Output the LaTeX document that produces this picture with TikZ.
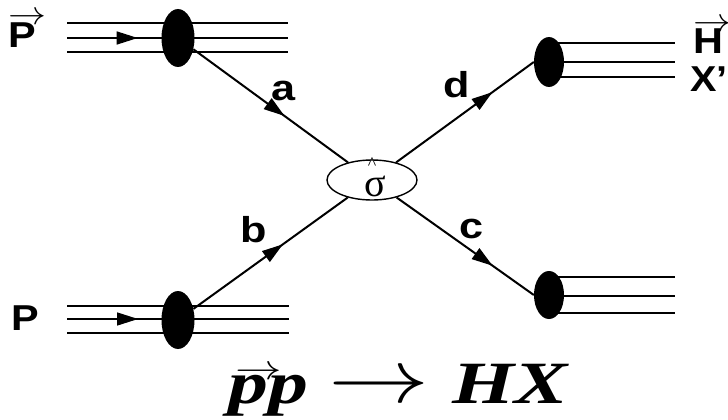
\documentclass[tikz,border=0pt]{standalone}
\usepackage{fontspec}
\usepackage{graphicx}
\setmainfont{Liberation Serif}
\newfontfamily\lsans{Liberation Sans}
\newfontfamily\lserif{Liberation Serif}
\usetikzlibrary{arrows.meta,decorations.markings,shapes.geometric}
% arrow glyph of given width, raised by given amount, overlaid on text
\newcommand\arw[1]{\resizebox{#1}{!}{$\rightarrow$}}
\newcommand\vecon[4]{\makebox[0pt][l]{\hspace{#3}\raisebox{#2}{\arw{#1}}}#4}
\newcommand\hstr[2]{\scalebox{#1}[1]{#2}}
\begin{document}
\begin{tikzpicture}[x=1pt,y=-1pt,
  beam/.style={line width=1.4pt},
  parton/.style={line width=2pt},
  tipmark/.style={postaction={decorate},decoration={markings,
     mark=at position #1 with {\arrow{Triangle[length=21pt,width=13pt]}}}},
  blob/.style={ellipse,fill=black,inner sep=0pt},
  lab/.style={font=\fontsize{36}{40}\selectfont\lsans\bfseries,inner sep=0pt},
]
\useasboundingbox (0,0) rectangle (728,420);
% beam lines top-left
\coordinate (tl1s) at (67,23);  \coordinate (tl1e) at (288,23);
\coordinate (tl2s) at (67,38);  \coordinate (tl2e) at (288,38);
\coordinate (tl3s) at (67,52);  \coordinate (tl3e) at (288,52);
\draw[beam] (tl1s) -- (tl1e);
\draw[beam,tipmark=0.32] (tl2s) -- (tl2e);
\draw[beam] (tl3s) -- (tl3e);
% beam lines bottom-left
\coordinate (bl1s) at (67,306);  \coordinate (bl1e) at (289,306);
\coordinate (bl2s) at (67,319);  \coordinate (bl2e) at (289,319);
\coordinate (bl3s) at (67,333);  \coordinate (bl3e) at (289,333);
\draw[beam] (bl1s) -- (bl1e);
\draw[beam,tipmark=0.32] (bl2s) -- (bl2e);
\draw[beam] (bl3s) -- (bl3e);
% outgoing lines top-right
\coordinate (tr1s) at (549,43);  \coordinate (tr1e) at (675,43);
\coordinate (tr2s) at (549,62);  \coordinate (tr2e) at (675,62);
\coordinate (tr3s) at (549,77);  \coordinate (tr3e) at (675,77);
\draw[beam] (tr1s) -- (tr1e);
\draw[beam] (tr2s) -- (tr2e);
\draw[beam] (tr3s) -- (tr3e);
% outgoing lines bottom-right
\coordinate (br1s) at (549,277);  \coordinate (br1e) at (675,277);
\coordinate (br2s) at (549,296);  \coordinate (br2e) at (675,296);
\coordinate (br3s) at (549,313);  \coordinate (br3e) at (675,313);
\draw[beam] (br1s) -- (br1e);
\draw[beam] (br2s) -- (br2e);
\draw[beam] (br3s) -- (br3e);
% blobs
\node[blob,minimum width=33pt,minimum height=58pt] (blobTL) at (178,38) {};
\node[blob,minimum width=33pt,minimum height=58pt] (blobBL) at (178,320) {};
\node[blob,minimum width=30pt,minimum height=50pt] (blobTR) at (549,62) {};
\node[blob,minimum width=30pt,minimum height=48pt] (blobBR) at (549,295) {};
% hard scattering
\node[ellipse,draw,line width=1.4pt,minimum width=90pt,minimum height=40pt,inner sep=0pt] (sigma) at (372,180) {};
\node[font=\fontsize{40}{44}\selectfont\lserif,inner sep=0pt] (sig) at (375.5,186) {σ};
\node[font=\fontsize{18}{20}\selectfont\lserif,inner sep=0pt,anchor=base] (hat) at (372,169) {\symbol{"5E}};
% partons
\draw[parton,tipmark=0.59] (blobTL) -- (sigma);
\draw[parton,tipmark=0.58] (blobBL) -- (sigma);
\draw[parton,tipmark=0.70] (sigma) -- (blobTR.west);
\draw[parton,tipmark=0.70] (sigma) -- (blobBR.west);
% labels
\node[lab,anchor=base] (la) at (284,100) {\hstr{1.2}{a}};
\node[lab,anchor=base] (lb) at (254,242) {\hstr{1.2}{b}};
\node[lab,anchor=base] (lc) at (472,238) {\hstr{1.2}{c}};
\node[lab,anchor=base] (ld) at (457,97) {\hstr{1.2}{d}};
\node[lab,anchor=base west] (lP1) at (8,48) {\hstr{1.15}{\vecon{33pt}{23pt}{0.5pt}{P}}};
\node[lab,anchor=base west] (lP2) at (11,330) {\hstr{1.15}{P}};
\node[lab,anchor=base west] (lH) at (693,53) {\hstr{1.15}{\vecon{33pt}{22pt}{0.5pt}{H}}};
\node[lab,anchor=base east] (lX) at (728,92) {\hstr{1.1}{X’}};
% formula
\node[inner sep=0pt,anchor=base] (formula) at (398,403)
  {\scalebox{1.33}[1]{\fontsize{60}{70}\selectfont\bfseries\itshape
   \vecon{35pt}{24pt}{5pt}{p}p\hspace{15pt}\raisebox{0.5pt}{\arw{76pt}}\hspace{17pt}HX}};
\end{tikzpicture}
\end{document}
